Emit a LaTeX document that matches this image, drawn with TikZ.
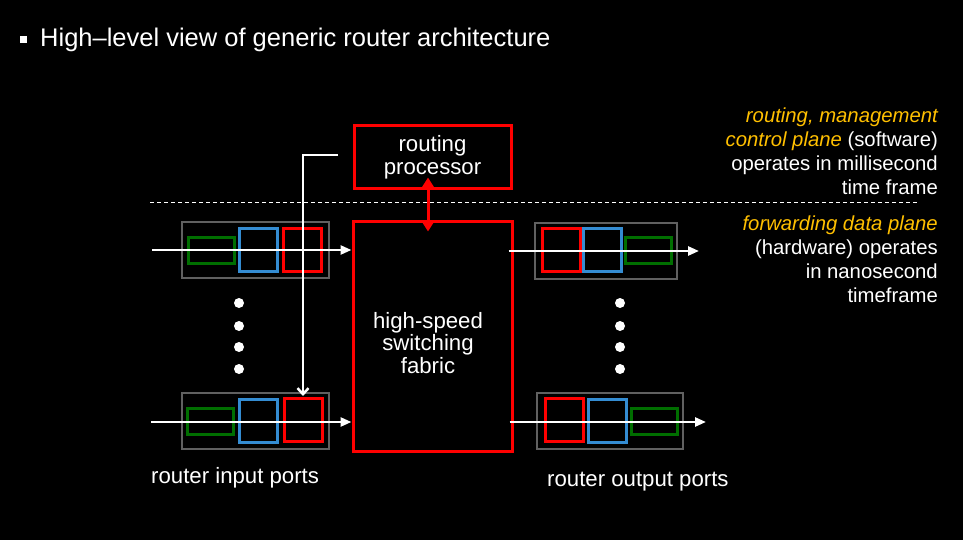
\documentclass[tikz,border=0pt]{standalone}
\usepackage{fontspec}
\setmainfont{Liberation Sans}
\usetikzlibrary{arrows.meta}
\definecolor{portgray}{RGB}{96,96,96}
\definecolor{pgreen}{RGB}{0,110,0}
\definecolor{pblue}{RGB}{52,140,210}
\definecolor{pred}{RGB}{255,0,0}
\definecolor{hl}{RGB}{255,192,0}
\begin{document}
\begin{tikzpicture}[x=1pt,y=-1pt,
  bigbox/.style={draw=pred, line width=3pt, inner sep=0pt, text=white, align=center},
  portbox/.style={draw=portgray, line width=2pt, inner sep=0pt, minimum width=147pt, minimum height=56pt},
  gbox/.style={draw=pgreen, line width=3pt, inner sep=0pt, minimum width=46pt, minimum height=26pt},
  bbox/.style={draw=pblue, line width=3pt, inner sep=0pt, minimum width=38pt, minimum height=43pt},
  rbox/.style={draw=pred, line width=3pt, inner sep=0pt, minimum width=38pt, minimum height=43pt},
  wline/.style={draw=white, line width=2.5pt},
  warrow/.style={wline, -{Triangle[length=11pt,width=9pt]}},
  lbl/.style={text=white, inner sep=0pt, font=\fontsize{22.2}{24}\selectfont},
  rtext/.style={text=white, inner sep=0pt, align=right, font=\fontsize{20.3}{24}\selectfont},
  dot/.style={fill=white}
]
\useasboundingbox (0,0) rectangle (963,540);
\fill[black] (0,0) rectangle (963,540);

% title
\fill[white] (20,36) rectangle (27,43);
\node[text=white, inner sep=0pt, anchor=west, font=\fontsize{25.5}{28}\selectfont] (title) at (40,40) {High–level view of generic router architecture};

% dashed line
\draw[white, line width=1pt, dash pattern=on 4pt off 3pt] (150,202) -- (918,202);

% main boxes
\node[bigbox, minimum width=157pt, minimum height=63pt, font=\fontsize{22.2}{22.5}\selectfont] (proc) at (432.5,157.5) {routing\\processor};
\node[bigbox, minimum width=159pt, minimum height=230pt] (fab) at (432.5,336) {};
\node[text=white, align=center, inner sep=0pt, font=\fontsize{22.2}{22.8}\selectfont] (fabtext) at (428,343) {high-speed\\switching\\fabric};

\draw[pred, line width=3pt, {Triangle[length=11pt,width=13pt]}-{Triangle[length=11pt,width=13pt]}]
  ([xshift=-4.5pt,yshift=13pt]proc.south) -- ([xshift=-4.5pt,yshift=-12pt]fab.north);

% input ports
\node[portbox] (inP1) at (255.5,250) {};
\node[gbox] (inG1) at (211,250) {};
\node[bbox] (inB1) at (258,249.5) {};
\node[rbox] (inR1) at (302,249.5) {};
\node[portbox] (inP2) at (255.5,421) {};
\node[gbox] (inG2) at (210.5,421.5) {};
\node[bbox] (inB2) at (258.5,420.5) {};
\node[rbox] (inR2) at (303,420) {};

% output ports
\node[portbox, minimum width=142pt] (outP1) at (606,251) {};
\node[rbox] (outR1) at (561,249.5) {};
\node[bbox] (outB1) at (602.5,249.5) {};
\node[gbox] (outG1) at (648.5,250.5) {};
\node[portbox, minimum width=146pt] (outP2) at (610,421) {};
\node[rbox] (outR2) at (564,420) {};
\node[bbox] (outB2) at (607,420.5) {};
\node[gbox] (outG2) at (654,421.5) {};

% arrows
\coordinate (in1) at (152,250);
\coordinate (in2) at (151,422);
\coordinate (out1) at (699,251);
\coordinate (out2) at (706,422);
\draw[warrow] (in1) -- (in1 -| fab.west);
\draw[warrow] (in2) -- (in2 -| fab.west);
\draw[warrow] ([xshift=-5pt]fab.east |- out1) -- (out1);
\draw[warrow] ([xshift=-4pt]fab.east |- out2) -- (out2);
\coordinate (lstart) at (338,155);
\draw[wline, -{Straight Barb[length=6pt,width=11pt]}] (lstart) -| ([yshift=1pt]inR2.north);

% dots
\foreach \yy in {303,326,347,369} {
  \fill[dot] (239,\yy) circle (5pt);
  \fill[dot] (620,\yy) circle (5pt);
}

% labels
\node[lbl, anchor=west] (inlbl) at (151,477.5) {router input ports};
\node[lbl, anchor=west] (outlbl) at (547,482) {router output ports};

\node[rtext, anchor=north east] (ctrl) at (938,108) {\textcolor{hl}{\itshape routing, management}\\\textcolor{hl}{\itshape control plane} (software)\\operates in millisecond\\time frame};
\node[rtext, anchor=north east] (data) at (938,216) {\textcolor{hl}{\itshape forwarding data plane}\\(hardware) operates\\in nanosecond\\timeframe};
\end{tikzpicture}
\end{document}
